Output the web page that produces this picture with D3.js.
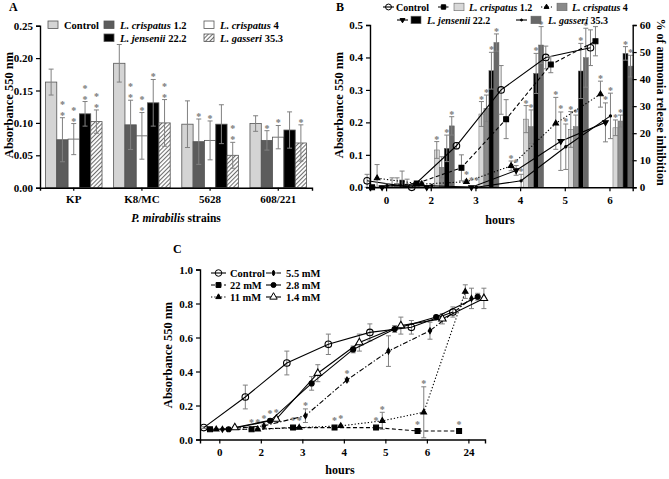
<!DOCTYPE html>
<html>
<head>
<meta charset="utf-8">
<script src="https://cdn.jsdelivr.net/npm/d3@7"></script>
<style>
body { margin: 0; background: #fff; }
text { font-family: "Liberation Serif", "Times New Roman", serif; font-weight: bold; }
</style>
</head>
<body>
<div id="wrapper"></div>
<script>
// ---- panel A data
const strainsA = ["KP", "K8/MC", "5628", "608/221"];
const treatmentsA = ["Control", "L. crispatus 1.2", "L. crispatus 4", "L. jensenii 22.2", "L. gasseri 35.3"];
const meanA = [
    [0.163, 0.074, 0.075, 0.114, 0.102],
    [0.192, 0.097, 0.080, 0.131, 0.100],
    [0.098, 0.071, 0.073, 0.098, 0.050],
    [0.099, 0.073, 0.078, 0.089, 0.069]
];
const errA = [
    [0.020, 0.034, 0.024, 0.019, 0.018],
    [0.029, 0.038, 0.036, 0.036, 0.036],
    [0.036, 0.035, 0.030, 0.030, 0.020],
    [0.012, 0.015, 0.018, 0.028, 0.028]
];
const starsA = [
    [0, 2, 2, 2, 2],
    [0, 2, 2, 1, 2],
    [0, 1, 1, 0, 2],
    [0, 1, 1, 0, 1]
];
const yTicksA = [0, 0.05, 0.10, 0.15, 0.20, 0.25];

// ---- panel B data
const hoursB = ["0", "2", "3", "4", "5", "6"];
const lineNamesB = ["Control", "L. crispatus 1.2", "L. crispatus 4", "L. jensenii 22.2", "L. gasseri 35.3"];
const controlB = [0.02, 0.0, 0.128, 0.30, 0.40, 0.43];
const controlErrB = [0.02, 0.005, 0.01, 0.075, 0.035, 0.055];
const crisp12B = [0.0, 0.012, 0.06, 0.21, 0.378, 0.45];
const crisp12ErrB = [0.005, 0.005, 0.04, 0.06, 0.025, 0.045];
const crisp4B = [0.028, 0.01, 0.017, 0.066, 0.197, 0.287];
const crisp4ErrB = [0.042, 0.005, 0.005, 0.015, 0.08, 0.04];
const jensB = [0.0, 0.0, 0.0, 0.052, 0.142, 0.20];
const jensErrB = [0.003, 0.003, 0.003, 0.015, 0.09, 0.06];
const gassB = [0.005, 0.005, 0.0, 0.02, 0.125, 0.22];
const gassErrB = [0.005, 0.005, 0.003, 0.02, 0.07, 0.07];
const lineStarsB = [
    [0, 0, 0, 0, 0, 0],
    [0, 0, 0, 0, 0, 0],
    [0, 0, 1, 1, 1, 1],
    [0, 0, 1, 1, 1, 1],
    [0, 0, 1, 1, 1, 1]
];
// % of ammonia release inhibition (right axis)
const barNamesB = ["L. crispatus 1.2", "L. crispatus 4", "L. jensenii 22.2", "L. gasseri 35.3"];
const inhibCrisp12 = [1.0, 13.8, 27.1, 25.2, 21.4, 22.0];
const inhibCrisp12Err = [2.5, 3.1, 4.6, 5.0, 6.6, 2.9];
const inhibCrisp4 = [1.5, 7.4, 29.2, 22.4, 22.4, 24.5];
const inhibCrisp4Err = [2.0, 3.9, 4.9, 6.2, 4.3, 2.2];
const inhibJens = [2.7, 14.4, 43.1, 42.1, 43.0, 49.5];
const inhibJensErr = [3.3, 4.9, 6.8, 7.4, 10.2, 2.5];
const inhibGass = [1.0, 22.7, 53.5, 52.6, 47.9, 44.8];
const inhibGassErr = [2.0, 3.4, 3.2, 6.8, 10.9, 4.0];
const barStarsB = [
    [0, 1, 1, 1, 1, 1],
    [0, 0, 1, 1, 1, 1],
    [0, 1, 1, 1, 1, 1],
    [0, 1, 1, 1, 1, 1]
];

// ---- panel C data
const hoursC = ["0", "2", "3", "4", "5", "6", "24"];
const namesC = ["Control", "22 mM", "11 mM", "5.5 mM", "2.8 mM", "1.4 mM"];
const controlC = [0.07, 0.25, 0.45, 0.56, 0.63, 0.66, 0.75];
const controlErrC = [0.005, 0.07, 0.07, 0.06, 0.05, 0.04, 0.03];
const mM22C = [0.06, 0.06, 0.07, 0.07, 0.07, 0.05, 0.05];
const mM22ErrC = [0.005, 0.005, 0.005, 0.005, 0.005, 0.005, 0.005];
const mM11C = [0.06, 0.06, 0.07, 0.08, 0.11, 0.16, 0.87];
const mM11ErrC = [0.005, 0.005, 0.005, 0.005, 0.05, 0.15, 0.04];
const mM55C = [0.06, 0.08, 0.14, 0.35, 0.52, 0.64, 0.83];
const mM55ErrC = [0.005, 0.01, 0.04, 0.01, 0.09, 0.05, 0.06];
const mM28C = [0.06, 0.11, 0.33, 0.53, 0.65, 0.72, 0.84];
const mM28ErrC = [0.005, 0.01, 0.04, 0.02, 0.02, 0.01, 0.02];
const mM14C = [0.07, 0.12, 0.39, 0.57, 0.67, 0.71, 0.83];
const mM14ErrC = [0.005, 0.01, 0.05, 0.05, 0.05, 0.03, 0.06];
const starsC = [
    [0, 0, 0, 0, 0, 0, 0],
    [0, 1, 1, 1, 1, 1, 1],
    [0, 1, 1, 1, 1, 1, 0],
    [0, 1, 1, 1, 0, 0, 0],
    [0, 1, 0, 0, 0, 0, 0],
    [0, 1, 0, 0, 0, 0, 0]
];

const FONT = '"Liberation Serif", "Times New Roman", serif';
const ERR = "#808080";
const STAR = "#7a7a7a";

const svg = d3.select("#wrapper").append("svg")
    .attr("width", 669)
    .attr("height", 479);
svg.append("rect").attr("width", 669).attr("height", 479).attr("fill", "#fff");

const pat = svg.append("defs").append("pattern")
    .attr("id", "hatch")
    .attr("patternUnits", "userSpaceOnUse")
    .attr("width", 3).attr("height", 3)
    .attr("patternTransform", "rotate(45)");
pat.append("rect").attr("width", 3).attr("height", 3).attr("fill", "#fff");
pat.append("line").attr("x1", 0.5).attr("y1", 0).attr("x2", 0.5).attr("y2", 3)
    .attr("stroke", "#6e6e6e").attr("stroke-width", 1.1);

function styleAxis(g, fs) {
    g.attr("font-family", FONT).attr("font-size", fs).attr("font-weight", "bold");
    g.select(".domain").attr("stroke-width", 1.4);
    g.selectAll(".tick line").attr("stroke-width", 1.2);
}

// name with italic species part
function speciesText(sel, name) {
    if (name.startsWith("L. ") || name.startsWith("P. ")) {
        const cut = name.lastIndexOf(" ");
        sel.append("tspan").attr("font-style", "italic").text(name.slice(0, cut));
        sel.append("tspan").text(name.slice(cut));
    } else {
        sel.text(name);
    }
}

function errorBar(g, x, yLo, yHi, cap) {
    g.append("line").attr("x1", x).attr("x2", x).attr("y1", yLo).attr("y2", yHi)
        .attr("stroke", ERR).attr("stroke-width", 1);
    [yLo, yHi].forEach(y => g.append("line")
        .attr("x1", x - cap).attr("x2", x + cap).attr("y1", y).attr("y2", y)
        .attr("stroke", ERR).attr("stroke-width", 1));
}

// stacked asterisks; cy = centre of the lowest one
function stars(g, x, cy, n) {
    const fs = 10;
    d3.range(n).forEach(k => g.append("text")
        .attr("x", x).attr("y", cy + fs * 0.55 - k * 11)
        .attr("text-anchor", "middle")
        .attr("font-size", fs)
        .attr("fill", STAR)
        .text("*"));
}

// ================= Panel A =================
const dimA = { left: 40, right: 312, top: 25.7, bottom: 187.7 };
const xA = d3.scaleBand().domain(strainsA).range([dimA.left, dimA.right])
    .paddingInner(0.17).paddingOuter(0.08);
const xA2 = d3.scaleBand().domain(treatmentsA).range([0, xA.bandwidth()]);
const yA = d3.scaleLinear().domain([0, 0.25]).range([dimA.bottom, dimA.top]);
const fillA = ["#d4d4d4", "#5c5c5c", "#ffffff", "#000000", "url(#hatch)"];

const gA = svg.append("g");
strainsA.forEach((s, i) => {
    treatmentsA.forEach((t, j) => {
        const x0 = xA(s) + xA2(t);
        const v = meanA[i][j];
        gA.append("rect")
            .attr("x", x0).attr("y", yA(v))
            .attr("width", xA2.bandwidth()).attr("height", yA(0) - yA(v))
            .attr("fill", fillA[j]).attr("stroke", "#555").attr("stroke-width", 0.8);
        const cx = x0 + xA2.bandwidth() / 2;
        errorBar(gA, cx, yA(v - errA[i][j]), yA(v + errA[i][j]), 2.5);
        stars(gA, cx, yA(v + errA[i][j]) - 4.5, starsA[i][j]);
    });
});

const axA = gA.append("g").attr("transform", `translate(${dimA.left},0)`)
    .call(d3.axisLeft(yA).tickValues(yTicksA).tickFormat(d3.format(".2f")).tickSize(4).tickPadding(3));
styleAxis(axA, 11);
const axAx = gA.append("g").attr("transform", `translate(0,${dimA.bottom})`)
    .call(d3.axisBottom(xA).tickSize(3).tickPadding(5));
styleAxis(axAx, 11);

gA.append("text").attr("transform", "translate(13,105) rotate(-90)")
    .attr("text-anchor", "middle").attr("font-size", 12.5).text("Absorbance 550 nm");
speciesText(gA.append("text").attr("x", 176).attr("y", 222)
    .attr("text-anchor", "middle").attr("font-size", 11.5), "P. mirabilis strains");
gA.append("text").attr("x", 9).attr("y", 11).attr("font-size", 12).text("A");

const legPosA = [[48, 25], [104, 25], [204, 25], [104, 38], [204, 38]];
treatmentsA.forEach((t, j) => {
    const [lx, ly] = legPosA[j];
    gA.append("rect").attr("x", lx).attr("y", ly - 4).attr("width", 10).attr("height", 7.5)
        .attr("fill", fillA[j]).attr("stroke", "#555").attr("stroke-width", 0.8);
    speciesText(gA.append("text").attr("x", lx + 16).attr("y", ly + 3.5).attr("font-size", 10.5), t);
});

// ================= Panel B =================
const dimB = { left: 370, right: 632.7, top: 25, bottom: 187.3 };
const xB = d3.scaleLinear().domain([-0.36, 5.52]).range([dimB.left, dimB.right]);
const subB = d3.scaleBand().domain(d3.range(9)).range([-21.5, 23.5]);
const yB = d3.scaleLinear().domain([0, 0.5]).range([dimB.bottom, dimB.top]);
const yB2 = d3.scaleLinear().domain([0, 60]).range([dimB.bottom, dimB.top]);
const gB = svg.append("g");

const barsB = [inhibCrisp12, inhibCrisp4, inhibJens, inhibGass];
const barErrB = [inhibCrisp12Err, inhibCrisp4Err, inhibJensErr, inhibGassErr];
const barFillB = ["#d8d8d8", "#8a8a8a", "#000000", "#686868"];
barsB.forEach((vals, k) => {
    vals.forEach((v, i) => {
        const x0 = xB(i) + subB(5 + k);
        gB.append("rect").attr("x", x0).attr("y", yB2(v))
            .attr("width", subB.bandwidth()).attr("height", yB2(0) - yB2(v))
            .attr("fill", barFillB[k]).attr("stroke", "#666").attr("stroke-width", 0.5);
        const cx = x0 + subB.bandwidth() / 2;
        errorBar(gB, cx, yB2(Math.max(0, v - barErrB[k][i])), yB2(v + barErrB[k][i]), 2.5);
        stars(gB, cx, yB2(v + barErrB[k][i]) - 4.5, barStarsB[k][i]);
    });
});

const linesB = [controlB, crisp12B, crisp4B, jensB, gassB];
const lineErrB = [controlErrB, crisp12ErrB, crisp4ErrB, jensErrB, gassErrB];
const dashB = [null, "4,2.5", "1.3,2", null, null];
const symB = [
    { type: d3.symbolCircle, size: 34, fill: "none", rot: 0 },
    { type: d3.symbolSquare, size: 24, fill: "#000", rot: 0 },
    { type: d3.symbolTriangle, size: 13, fill: "#000", rot: 0 },
    { type: d3.symbolTriangle, size: 13, fill: "#000", rot: 180 },
    { type: d3.symbolCircle, size: 4, fill: "#000", rot: 0 }
];
linesB.forEach((vals, k) => {
    const off = subB(k) + subB.bandwidth() / 2;
    vals.forEach((v, i) => {
        const cx = xB(i) + off;
        errorBar(gB, cx, yB(Math.max(0, v - lineErrB[k][i])), yB(v + lineErrB[k][i]), 2.5);
        stars(gB, cx, Math.min(yB(v + lineErrB[k][i]), yB(v) - 4) - 5, lineStarsB[k][i]);
    });
    gB.append("path")
        .attr("d", d3.line().x((d, i) => xB(i) + off).y(d => yB(d))(vals))
        .attr("fill", "none").attr("stroke", "#000").attr("stroke-width", 1.1)
        .attr("stroke-dasharray", dashB[k]);
    gB.selectAll(null).data(vals).join("path")
        .attr("transform", (d, i) => `translate(${xB(i) + off},${yB(d)}) rotate(${symB[k].rot})`)
        .attr("d", d3.symbol(symB[k].type, symB[k].size))
        .attr("fill", symB[k].fill).attr("stroke", "#000").attr("stroke-width", 1.1);
});

const axBl = gB.append("g").attr("transform", `translate(${dimB.left},0)`)
    .call(d3.axisLeft(yB).ticks(5).tickFormat(d3.format(".1f")).tickSize(4).tickPadding(3));
styleAxis(axBl, 11);
const axBr = gB.append("g").attr("transform", `translate(${dimB.right},0)`)
    .call(d3.axisRight(yB2).tickValues(d3.range(0, 61, 10)).tickSize(4).tickPadding(3));
styleAxis(axBr, 11);
const axBx = gB.append("g").attr("transform", `translate(0,${dimB.bottom})`)
    .call(d3.axisBottom(xB).tickValues(d3.range(hoursB.length)).tickFormat(i => hoursB[i])
        .tickSize(4).tickPadding(5));
styleAxis(axBx, 11);

gB.append("text").attr("transform", "translate(343,105) rotate(-90)")
    .attr("text-anchor", "middle").attr("font-size", 12.5).text("Absorbance 550 nm");
gB.append("text").attr("transform", "translate(657,102) rotate(90)")
    .attr("text-anchor", "middle").attr("font-size", 12).text("% of ammonia release inhibition");
gB.append("text").attr("x", 500).attr("y", 224).attr("text-anchor", "middle")
    .attr("font-size", 12).text("hours");
gB.append("text").attr("x", 336).attr("y", 11).attr("font-size", 12).text("B");

// legend B: [marker x0, box x (or null), text x, y]
const legB = [[383, null, 396, 7], [438, 454, 469, 7], [541, 557, 572, 7], [397, 411, 427, 20], [516, 531, 548, 20]];
lineNamesB.forEach((n, k) => {
    const [mx, bx, tx, ly] = legB[k];
    gB.append("line").attr("x1", mx).attr("x2", mx + 11).attr("y1", ly).attr("y2", ly)
        .attr("stroke", "#000").attr("stroke-width", 1.1).attr("stroke-dasharray", dashB[k]);
    gB.append("path").attr("transform", `translate(${mx + 5.5},${ly}) rotate(${symB[k].rot})`)
        .attr("d", d3.symbol(symB[k].type, symB[k].size * 0.8))
        .attr("fill", symB[k].fill).attr("stroke", "#000").attr("stroke-width", 1);
    if (bx !== null) {
        gB.append("rect").attr("x", bx).attr("y", ly - 3.8).attr("width", 10).attr("height", 7.5)
            .attr("fill", barFillB[k - 1]).attr("stroke", "#666").attr("stroke-width", 0.6);
    }
    speciesText(gB.append("text").attr("x", tx).attr("y", ly + 3.5).attr("font-size", 10), n);
});

// ================= Panel C =================
const dimC = { left: 200, right: 485, top: 269.5, bottom: 439.5 };
const xC = d3.scaleLinear().domain([-0.465, 6.4]).range([dimC.left, dimC.right]);
const subC = d3.scaleBand().domain(d3.range(6)).range([-18.6, 18.6]);
const yC = d3.scaleLinear().domain([0, 1]).range([dimC.bottom, dimC.top]);
const gC = svg.append("g");

const linesC = [controlC, mM22C, mM11C, mM55C, mM28C, mM14C];
const errC = [controlErrC, mM22ErrC, mM11ErrC, mM55ErrC, mM28ErrC, mM14ErrC];
const dashC = [null, "4,2.5", "1.3,2", "5,2,1.3,2", null, null];
const symC = [
    { type: d3.symbolCircle, size: 34, fill: "none", rot: 0 },
    { type: d3.symbolSquare, size: 24, fill: "#000", rot: 0 },
    { type: d3.symbolTriangle, size: 13, fill: "#000", rot: 0 },
    { type: d3.symbolDiamond, size: 10, fill: "#000", rot: 0 },
    { type: d3.symbolCircle, size: 20, fill: "#000", rot: 0 },
    { type: d3.symbolTriangle, size: 24, fill: "#fff", rot: 0 }
];
linesC.forEach((vals, k) => {
    const off = subC(k) + subC.bandwidth() / 2;
    vals.forEach((v, i) => {
        const cx = xC(i) + off;
        errorBar(gC, cx, yC(v - errC[k][i]), yC(v + errC[k][i]), 2.5);
        stars(gC, cx, Math.min(yC(v + errC[k][i]), yC(v) - 4) - 5, starsC[k][i]);
    });
});
linesC.forEach((vals, k) => {
    const off = subC(k) + subC.bandwidth() / 2;
    gC.append("path")
        .attr("d", d3.line().x((d, i) => xC(i) + off).y(d => yC(d))(vals))
        .attr("fill", "none").attr("stroke", "#000").attr("stroke-width", 1.1)
        .attr("stroke-dasharray", dashC[k]);
    gC.selectAll(null).data(vals).join("path")
        .attr("transform", (d, i) => `translate(${xC(i) + off},${yC(d)})`)
        .attr("d", d3.symbol(symC[k].type, symC[k].size))
        .attr("fill", symC[k].fill).attr("stroke", "#000").attr("stroke-width", 1.1);
});

const axCl = gC.append("g").attr("transform", `translate(${dimC.left},0)`)
    .call(d3.axisLeft(yC).ticks(5).tickFormat(d3.format(".1f")).tickSize(4).tickPadding(3));
styleAxis(axCl, 11);
const axCx = gC.append("g").attr("transform", `translate(0,${dimC.bottom})`)
    .call(d3.axisBottom(xC).tickValues(d3.range(hoursC.length)).tickFormat(i => hoursC[i])
        .tickSize(4).tickPadding(5));
styleAxis(axCx, 11);

gC.append("text").attr("transform", "translate(172,355) rotate(-90)")
    .attr("text-anchor", "middle").attr("font-size", 12.5).text("Absorbance 550 nm");
gC.append("text").attr("x", 340).attr("y", 474).attr("text-anchor", "middle")
    .attr("font-size", 12).text("hours");
gC.append("text").attr("x", 173).attr("y", 253).attr("font-size", 12).text("C");

const legC = [[211, 230, 273], [211, 230, 285], [211, 230, 297], [266, 286, 273], [266, 286, 285], [266, 286, 297]];
namesC.forEach((n, k) => {
    const [mx, tx, ly] = legC[k];
    gC.append("line").attr("x1", mx).attr("x2", mx + 15).attr("y1", ly).attr("y2", ly)
        .attr("stroke", "#000").attr("stroke-width", 1.1).attr("stroke-dasharray", dashC[k]);
    gC.append("path").attr("transform", `translate(${mx + 7.5},${ly})`)
        .attr("d", d3.symbol(symC[k].type, symC[k].size))
        .attr("fill", symC[k].fill).attr("stroke", "#000").attr("stroke-width", 1);
    gC.append("text").attr("x", tx).attr("y", ly + 3.5).attr("font-size", 10.5).text(n);
});
</script>
</body>
</html>
